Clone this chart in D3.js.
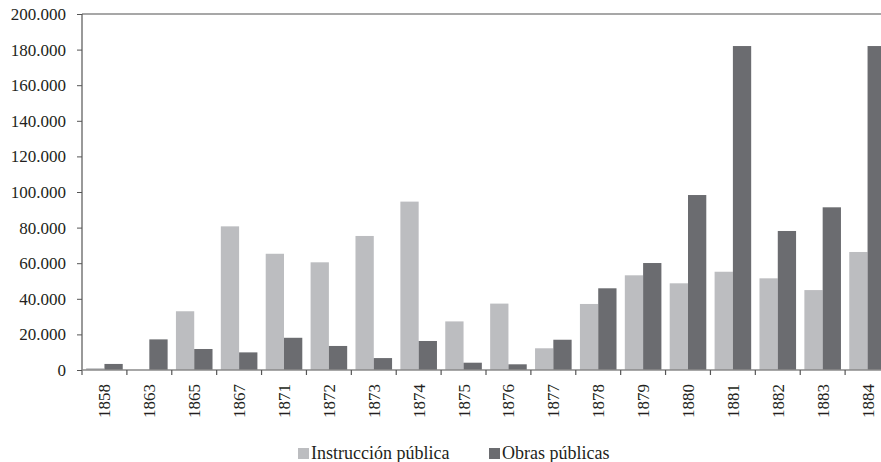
<!DOCTYPE html>
<html>
<head>
<meta charset="utf-8">
<script src="https://cdn.jsdelivr.net/npm/d3@7"></script>
<style>
  html, body { margin: 0; padding: 0; background: #fff; }
  svg { display: block; }
</style>
</head>
<body>
<svg id="chart" width="881" height="462"></svg>
<script>
// Gasto por año (pesos)
const years = ["1858","1863","1865","1867","1871","1872","1873","1874","1875","1876","1877","1878","1879","1880","1881","1882","1883","1884"];
const instruccion = [1000, 0, 33000, 80700, 65300, 60500, 75300, 94600, 27300, 37300, 12200, 37100, 53200, 48700, 55200, 51500, 44900, 66300];
const obras = [3400, 17200, 11800, 9900, 18100, 13500, 6700, 16300, 4100, 3200, 17000, 45900, 60100, 98300, 182000, 78100, 91400, 182000];
const seriesNames = ["Instrucción pública", "Obras públicas"];
const seriesColors = ["#bcbdc0", "#6b6c70"];
const yTicks = [0, 20000, 40000, 60000, 80000, 100000, 120000, 140000, 160000, 180000, 200000];

const FONT = "'Liberation Serif', 'Times New Roman', serif";
const INK = "#231f20";

const svg = d3.select("#chart");
const plotLeft = 82, plotRight = 890, plotTop = 14, plotBottom = 370;

const x = d3.scaleBand().domain(years).range([plotLeft, plotRight]).padding(0);
const x1 = d3.scaleBand().domain(seriesNames)
  .range([x.bandwidth() * 0.0925, x.bandwidth() * 0.9075]).padding(0);
const y = d3.scaleLinear().domain([0, 200000]).range([plotBottom, plotTop]);

const fmt = v => d3.format(",")(v).replace(/,/g, ".");

// bars
const data = years.map((yr, i) => ({ year: yr, values: [instruccion[i], obras[i]] }));
const groups = svg.append("g").selectAll("g").data(data).join("g")
  .attr("transform", d => `translate(${x(d.year)},0)`);
groups.selectAll("rect")
  .data(d => d.values.map((v, j) => ({ name: seriesNames[j], v, j })))
  .join("rect")
  .attr("x", d => x1(d.name))
  .attr("width", x1.bandwidth())
  .attr("y", d => y(d.v))
  .attr("height", d => plotBottom - y(d.v))
  .attr("fill", d => seriesColors[d.j]);

// top border line
svg.append("line").attr("x1", plotLeft).attr("x2", 881).attr("y1", y(200000)).attr("y2", y(200000))
  .attr("stroke", "#8a8a8a").attr("stroke-width", 1.5);

// y axis
const yAxis = d3.axisLeft(y).tickValues(yTicks).tickFormat(fmt).tickSize(5).tickPadding(11);
const gy = svg.append("g").attr("transform", `translate(${plotLeft},0)`).call(yAxis);
gy.attr("font-family", null).attr("font-size", null);
gy.select(".domain").remove();
gy.append("line").attr("x1", 0).attr("x2", 0).attr("y1", plotTop).attr("y2", plotBottom + 5)
  .attr("stroke", "#555").attr("stroke-width", 1.2);
gy.selectAll(".tick line").attr("stroke", "#555");
gy.selectAll(".tick text").style("font-size", "17px");

// x axis baseline and ticks at category boundaries
svg.append("line").attr("x1", plotLeft).attr("x2", 881).attr("y1", plotBottom).attr("y2", plotBottom)
  .attr("stroke", "#8a8a8a").attr("stroke-width", 1.5);
svg.append("g").selectAll("line").data(years.slice(1)).join("line")
  .attr("x1", d => x(d)).attr("x2", d => x(d))
  .attr("y1", plotBottom).attr("y2", plotBottom + 5)
  .attr("stroke", "#555").attr("stroke-width", 1.2);

// rotated year labels
svg.append("g").selectAll("text").data(years).join("text")
  .attr("transform", d => `translate(${x(d) + x.bandwidth() / 2},384) rotate(-90)`)
  .attr("text-anchor", "end")
  .attr("dy", "0.35em")
  .style("font-size", "17px")
  .text(d => d);

// legend
const legend = [
  { name: seriesNames[0], color: seriesColors[0], x: 298 },
  { name: seriesNames[1], color: seriesColors[1], x: 489 }
];
const lg = svg.append("g").selectAll("g").data(legend).join("g")
  .attr("transform", d => `translate(${d.x},0)`);
lg.append("rect").attr("x", 0).attr("y", 448).attr("width", 11).attr("height", 11)
  .attr("fill", d => d.color);
lg.append("text").attr("x", 13).attr("y", 459).style("font-size", "18px").text(d => d.name);

// one typeface for every label
svg.selectAll("text").style("font-family", FONT).attr("fill", INK);
</script>
</body>
</html>
